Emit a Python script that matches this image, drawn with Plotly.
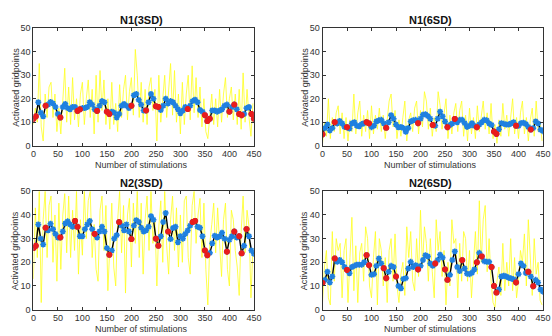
import plotly.graph_objects as go

# ---------------- data ----------------
titles = ["N1(3SD)", "N1(6SD)", "N2(3SD)", "N2(6SD)"]
x_label = "Number of stimulations"
y_label = "Activated gridpoints"
x_ticks = [0, 50, 100, 150, 200, 250, 300, 350, 400, 450]
y_ticks = [0, 10, 20, 30, 40, 50]

# raw (yellow) responses, sampled every 4 stimulations (0..448)
raw_x = list(range(0, 449, 4))
raw_n1_3 = [9, 16, 10, 35, 8, 2, 22, 12, 25, 27, 12, 22, 6, 16, 5, 20, 33, 10, 25, 9,
            29, 11, 20, 8, 22, 27, 9, 20, 28, 12, 24, 5, 30, 10, 32, 15, 28, 9, 20, 7,
            27, 9, 18, 6, 26, 12, 24, 30, 11, 23, 29, 13, 41, 30, 12, 27, 10, 24, 9, 25,
            29, 15, 24, 2, 30, 10, 21, 30, 12, 26, 35, 13, 32, 10, 22, 5, 27, 9, 22, 30,
            11, 34, 14, 29, 12, 25, 8, 20, 6, 3, 14, 22, 9, 20, 8, 24, 10, 22, 29, 12,
            20, 25, 11, 22, 9, 24, 7, 31, 10, 24, 12, 4, 18]
raw_n1_6 = [1, 10, 4, 20, 3, 12, 6, 14, 17, 5, 14, 3, 12, 2, 11, 6, 22, 5, 14, 19,
            4, 13, 6, 15, 3, 17, 5, 13, 7, 16, 6, 13, 3, 12, 19, 22, 8, 15, 3, 11,
            4, 12, 19, 2, 11, 14, 6, 16, 19, 5, 15, 8, 23, 19, 7, 16, 4, 12, 6, 23,
            17, 7, 15, 20, 3, 13, 5, 14, 18, 6, 15, 19, 4, 13, 2, 16, 5, 12, 3, 17,
            6, 13, 19, 7, 14, 5, 18, 3, 9, 1, 11, 4, 18, 7, 13, 4, 12, 20, 5, 12,
            3, 14, 19, 5, 12, 2, 11, 16, 4, 19, 6, 10, 2]
raw_n2_3 = [13, 43, 22, 50, 3, 38, 50, 22, 44, 48, 20, 40, 12, 45, 17, 40, 49, 24, 48, 22,
            42, 25, 50, 15, 38, 23, 50, 30, 46, 50, 22, 36, 17, 12, 42, 48, 25, 44, 8, 30,
            45, 18, 10, 38, 50, 24, 44, 7, 40, 47, 18, 45, 28, 50, 22, 45, 15, 38, 48, 25,
            50, 28, 38, 10, 35, 46, 20, 50, 27, 15, 38, 48, 25, 43, 18, 40, 20, 46, 48, 22,
            15, 44, 50, 28, 40, 47, 22, 45, 17, 2, 28, 36, 45, 24, 43, 28, 14, 38, 45, 17,
            10, 42, 38, 25, 18, 6, 33, 48, 24, 42, 35, 5, 26]
raw_n2_6 = [3, 18, 25, 5, 2, 33, 12, 30, 25, 28, 5, 25, 30, 3, 22, 39, 8, 27, 3, 24,
            28, 12, 35, 30, 10, 5, 22, 33, 2, 30, 25, 10, 22, 3, 25, 30, 12, 32, 10, 3,
            15, 20, 6, 35, 22, 33, 12, 8, 30, 14, 42, 18, 35, 28, 12, 30, 16, 5, 38, 25,
            33, 14, 25, 2, 20, 10, 38, 28, 30, 5, 28, 12, 33, 30, 12, 25, 5, 22, 33, 15,
            46, 20, 38, 44, 16, 30, 12, 3, 1, 12, 18, 6, 28, 8, 20, 10, 30, 8, 22, 5,
            12, 25, 20, 32, 10, 38, 22, 6, 30, 15, 20, 4, 2]

# smoothed responses, every 5 stimulations (0..450)
smooth_x = list(range(0, 451, 5))
smooth_n1_3 = [11.4, 12.5, 18.5, 14, 12.5, 17, 17.5, 18.6, 18, 16.5, 13.5, 12, 16.5, 17.8, 16,
               15.5, 16.5, 16.5, 14.8, 15.5, 16, 16, 16.5, 18.5, 17.5, 15.5, 14.8, 17, 19, 18.5,
               14.5, 13.5, 14.5, 14, 12, 13.5, 17, 17.8, 17, 16, 17, 21.5, 22, 19.5, 17.5,
               15, 15, 18.5, 22, 20, 16.8, 16.5, 15.2, 17, 20, 18, 19, 18.5, 17, 15.5,
               13.8, 15, 16.5, 15.6, 17, 19, 19.6, 18.5, 15.2, 14.5, 13, 10.5, 11.5, 15, 15,
               14.5, 15, 15.5, 17, 17.5, 14.5, 16.5, 17.5, 15.5, 13.5, 13, 13.5, 16, 16.5, 13.5,
               11.5]
smooth_n1_6 = [4.8, 7.5, 9, 6.5, 7.5, 10, 9.5, 10.5, 9.5, 8, 7.9, 7.3, 9.5, 10, 8.5,
               8.3, 9.2, 9.6, 10, 9.5, 7.9, 8.5, 10.3, 10.8, 11, 9.5, 7.6, 10, 13, 11.5,
               9, 7.8, 8, 7.5, 5.9, 7.5, 10.3, 10.8, 11, 9.6, 11.5, 13.2, 13.4, 12.6, 11.5,
               8.8, 8.5, 11.5, 14.5, 12.5, 10.3, 7.9, 8.8, 9.5, 11.4, 10, 11, 11, 9.6, 8,
               8.5, 9.6, 8.5, 7.9, 9, 10, 11, 10.8, 9.5, 8.8, 6, 5, 7, 9.6, 9.3,
               9, 9, 9.5, 10, 8.5, 8.5, 9.6, 9.8, 9.2, 8, 6.9, 7.5, 10.3, 9.5, 6.8,
               6.2]
smooth_n2_3 = [26, 27, 36, 30, 27.5, 34.6, 33.5, 36.3, 34, 32, 30.5, 30.5, 33, 36.4, 37.3,
               36, 35, 37.5, 35, 31, 31, 34, 36, 37.5, 34, 32, 30.5, 33, 35, 33,
               26, 23.2, 25, 30, 31.5, 37, 35.5, 33.5, 36, 33, 29.8, 35.5, 37.8, 37, 34.6,
               33, 33.5, 35, 39.5, 38, 30, 27, 31, 37, 40.8, 33, 29.8, 34.5, 35, 28.5,
               31, 30, 32, 33.5, 35.5, 37, 37.5, 35, 34.6, 31, 25, 23, 24, 28, 31.2,
               30.5, 31, 32.5, 30, 24.5, 29.5, 31, 33, 30.5, 31, 23.8, 27, 34, 31, 25,
               23.6]
smooth_n2_6 = [11.3, 12.6, 16, 11.5, 14, 21.6, 20.2, 21, 20, 18, 16.8, 15.4, 18, 18.5, 19,
               19, 19, 20, 23, 18.8, 14.7, 15, 18.5, 21.6, 19.5, 17.5, 13.3, 16, 18.5, 18,
               14, 10, 9, 13, 13.3, 17.4, 20.2, 18, 18.8, 17, 18.5, 21, 23, 22.5, 19.5,
               18.5, 19.5, 21, 23.2, 22, 17, 12.6, 14.7, 21, 24.6, 18, 16.3, 20.9, 17.4, 15.2,
               15, 15.6, 17, 20, 24, 22.5, 20.5, 20.2, 20.2, 18, 10, 7.2, 8.5, 14, 14.3,
               14, 13.5, 13.2, 12.8, 11.5, 15, 19.5, 18.5, 15.5, 16, 14, 9.9, 12.6, 11.5, 8.5,
               7.6]

# stimulations whose smoothed point is flagged (red marker)
red_n1_3 = [0, 5, 25, 55, 90, 95, 130, 150, 155, 200, 230, 250, 255, 315, 350, 355, 360, 400, 410, 420, 425, 445, 450]
red_n1_6 = [0, 25, 50, 90, 95, 130, 195, 225, 255, 270, 315, 350, 355, 395, 425]
red_n2_3 = [0, 5, 25, 55, 85, 90, 125, 155, 175, 200, 250, 255, 275, 325, 330, 350, 355, 395, 410, 420, 425, 435]
red_n2_6 = [0, 25, 50, 90, 95, 125, 130, 150, 195, 230, 250, 255, 285, 315, 325, 345, 350, 355, 395, 420, 430]

raws = [raw_n1_3, raw_n1_6, raw_n2_3, raw_n2_6]
smooths = [smooth_n1_3, smooth_n1_6, smooth_n2_3, smooth_n2_6]
reds = [red_n1_3, red_n1_6, red_n2_3, red_n2_6]

# ---------------- layout geometry ----------------
W, H = 552, 336
xdoms = [[31 / W, 256 / W], [326 / W, 551 / W]]
ydoms = [[1 - 145 / H, 1 - 24 / H], [1 - 314 / H, 1 - 192 / H]]
FONT = "Liberation Sans, Arial, sans-serif"

fig = go.Figure()
annotations = []
for i in range(4):
    r, c = divmod(i, 2)
    xa = "x" if i == 0 else f"x{i + 1}"
    ya = "y" if i == 0 else f"y{i + 1}"
    fig.add_trace(go.Scatter(x=raw_x, y=raws[i], mode="lines",
                             line=dict(color="#ffff20", width=0.8),
                             xaxis=xa, yaxis=ya, showlegend=False, hoverinfo="skip"))
    fig.add_trace(go.Scatter(x=smooth_x, y=smooths[i], mode="lines",
                             line=dict(color="#000000", width=1.4),
                             xaxis=xa, yaxis=ya, showlegend=False))
    fig.add_trace(go.Scatter(x=smooth_x, y=smooths[i], mode="markers",
                             marker=dict(symbol="asterisk-open", size=5, color="#1f80e0",
                                         line=dict(color="#1f80e0", width=1.6)),
                             xaxis=xa, yaxis=ya, showlegend=False))
    rx = [xv for xv in smooth_x if xv in reds[i]]
    ry = [smooths[i][smooth_x.index(xv)] for xv in rx]
    fig.add_trace(go.Scatter(x=rx, y=ry, mode="markers",
                             marker=dict(symbol="asterisk-open", size=5, color="#e81c1c",
                                         line=dict(color="#e81c1c", width=2.2)),
                             xaxis=xa, yaxis=ya, showlegend=False))
    axcommon = dict(showline=True, linecolor="#333333", linewidth=1, mirror="ticks",
                    ticks="inside", ticklen=3, tickcolor="#333333", showgrid=False,
                    zeroline=False, tickfont=dict(family=FONT, size=9, color="#333333"))
    fig.layout[xa.replace("x", "xaxis")] = dict(domain=xdoms[c], range=[0, 450], tickvals=x_ticks,
                                                anchor=ya, **axcommon)
    fig.layout[ya.replace("y", "yaxis")] = dict(domain=ydoms[r], range=[0, 50], tickvals=y_ticks,
                                                anchor=xa, **axcommon)
    cx = (xdoms[c][0] + xdoms[c][1]) / 2 - 2 / W
    annotations.append(dict(text=f"<b>{titles[i]}</b>", x=cx, y=ydoms[r][1] + 9 / H,
                            xref="paper", yref="paper", showarrow=False,
                            font=dict(family=FONT, size=11, color="#111111"),
                            xanchor="center", yanchor="middle"))
    annotations.append(dict(text=x_label, x=cx, y=ydoms[r][0] - 20 / H,
                            xref="paper", yref="paper", showarrow=False,
                            font=dict(family=FONT, size=9, color="#333333"),
                            xanchor="center", yanchor="middle"))
    annotations.append(dict(text=y_label, x=xdoms[c][0] - 18 / W,
                            y=(ydoms[r][0] + ydoms[r][1]) / 2,
                            xref="paper", yref="paper", showarrow=False, textangle=-90,
                            font=dict(family=FONT, size=9, color="#333333"),
                            xanchor="center", yanchor="middle"))

fig.update_layout(width=W, height=H, margin=dict(l=0, r=0, t=0, b=0),
                  plot_bgcolor="white", paper_bgcolor="white",
                  annotations=annotations, showlegend=False)
fig.write_html("out.html")
